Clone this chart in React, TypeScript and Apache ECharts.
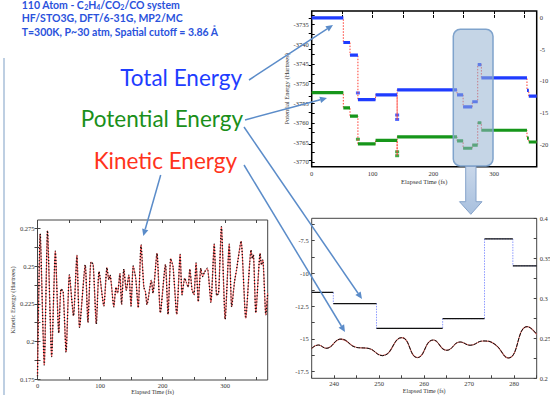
import { useEffect, useRef } from 'react';
import * as echarts from 'echarts';

// ---------- Top-right chart (0–370 fs), step data ----------
const stepTimes = [0, 52, 63, 76, 105, 140.5, 239, 249, 264, 273, 279, 354, 357, 370];
// Total energy (energy conservation, kcal/mol, right axis)
const totalEnergy = [0, -3.9, -5.9, -12.95, -12.2, -11.4, -12.2, -14.1, -13.3, -7.4, -9.5, -11.5, -12.4];
// Potential energy (Hartrees, left axis)
const potentialEnergy = [-3752.3, -3756.2, -3758.3, -3765.4, -3764.5, -3763.6, -3764.6, -3766.5, -3765.7, -3760.0, -3761.9, -3763.9, -3764.9];
const glitchTimes = [76, 140.5, 140.5];
const totalGlitch = [-11.9, -15.4, -16.1];
const potentialGlitch = [-3764.2, -3767.4, -3768.4];

const topTimeLabels = [0, 100, 200, 300];
const topTimeTicks = [0, 50, 100, 150, 200, 250, 300, 350];
const potLabels = [-3770, -3765, -3760, -3755, -3750, -3745, -3740, -3735];
const potTicks = [-3770, -3767.5, -3765, -3762.5, -3760, -3757.5, -3755, -3752.5, -3750, -3747.5, -3745, -3742.5, -3740, -3737.5, -3735, -3732.5];
const consLabels = [-20, -15, -10, -5, 0];
const consTicks = [-22.5, -20, -17.5, -15, -12.5, -10, -7.5, -5, -2.5, 0];

// ---------- Bottom-left chart: kinetic energy (Hartrees) ----------
const kinTime = [0, 4.3, 10.8, 16, 22.6, 28.5, 34, 37.6, 41, 45.7, 51, 57.5, 63, 67.2, 76.3, 80.6, 85.5, 89, 94, 98.4, 106, 111, 114, 116, 122, 125.5, 128, 131.7, 134.4, 138, 142, 146, 149.5, 153, 157, 161, 165.5, 170, 172.5, 175, 182, 184.6, 191, 196.4, 204.5, 208.7, 213, 216.7, 222.6, 228, 231.1, 235.4, 238, 240.8, 243.5, 247, 250, 253.5, 257, 261.1, 264, 267, 271.5, 277.2, 282.5, 286.5, 289.5, 294, 300, 306.5, 310.4, 315, 318, 325.4, 332.9, 341.4, 343.5, 345.1, 349, 355.9, 358, 360.2, 365, 368];
const kinValue = [0.177, 0.2713, 0.1845, 0.2734, 0.19, 0.2598, 0.2057, 0.2348, 0.233, 0.193, 0.2441, 0.217, 0.257, 0.2094, 0.2507, 0.2127, 0.2528, 0.251, 0.2116, 0.2463, 0.2235, 0.249, 0.241, 0.244, 0.223, 0.236, 0.232, 0.245, 0.2246, 0.248, 0.234, 0.244, 0.2235, 0.25, 0.242, 0.2224, 0.264, 0.236, 0.233, 0.2245, 0.2405, 0.232, 0.2585, 0.219, 0.251, 0.218, 0.255, 0.2495, 0.218, 0.2577, 0.231, 0.242, 0.239, 0.236, 0.248, 0.2345, 0.231, 0.252, 0.2265, 0.2485, 0.243, 0.246, 0.2485, 0.226, 0.2645, 0.2305, 0.232, 0.276, 0.2148, 0.2645, 0.223, 0.2397, 0.247, 0.2665, 0.2154, 0.2606, 0.255, 0.2575, 0.219, 0.2584, 0.2507, 0.254, 0.2177, 0.232];
const kinTimeLabels = [0, 100, 200, 300];
const kinTimeTicks = [0, 50, 100, 150, 200, 250, 300, 350];
const kinLabels = [0.175, 0.2, 0.225, 0.25, 0.275];
const kinTicks = [0.175, 0.1875, 0.2, 0.2125, 0.225, 0.2375, 0.25, 0.2625, 0.275];

// ---------- Bottom-right chart: zoom 235–285 fs ----------
const zoomStepTimes = [235, 239.8, 249.4, 264.1, 273.4, 279.7, 285];
const zoomStepValues = [-11.45, -12.3, -14.2, -13.45, -7.37, -9.42];
const zoomKinTime = [235, 236.5, 238.2, 241.5, 245, 247.5, 250.7, 255, 258.5, 262, 265, 268, 270.2, 273.1, 275.7, 278.7, 282.9, 285];
const zoomKinValue = [0.2375, 0.2416, 0.2375, 0.249, 0.2385, 0.2375, 0.2283, 0.2508, 0.2258, 0.2479, 0.235, 0.2454, 0.2413, 0.2467, 0.2425, 0.2254, 0.2646, 0.255];
const zoomTimeLabels = [240, 250, 260, 270, 280];
const zoomTimeTicks = [235, 240, 245, 250, 255, 260, 265, 270, 275, 280, 285];
const zoomConsLabels = [-17.5, -15, -12.5, -10, -7.5];
const zoomConsTicks = [-17.5, -16.25, -15, -13.75, -12.5, -11.25, -10, -8.75, -7.5, -6.25];
const zoomKinLabels = [0.2, 0.25, 0.3, 0.35, 0.4];
const zoomKinTicks = [0.2, 0.225, 0.25, 0.275, 0.3, 0.325, 0.35, 0.375, 0.4];

const SERIF = 'Liberation Serif';
const SANS = 'Lato';

function stepSegments(times: number[], values: number[]) {
  const out: any[] = [];
  values.forEach((v, i) => {
    out.push([times[i], v], [times[i + 1], v], [times[i + 1], null]);
  });
  return out;
}

function stepPath(times: number[], values: number[], gT: number[] = [], gV: number[] = []) {
  const pts: number[][] = [[times[0], values[0]]];
  values.forEach((v, i) => {
    const tEnd = times[i + 1];
    pts.push([tEnd, v]);
    if (i + 1 < values.length) {
      gT.forEach((g, k) => {
        if (g === tEnd) pts.push([tEnd, gV[k]]);
      });
      pts.push([tEnd, values[i + 1]]);
    }
  });
  return pts;
}

function zip(a: number[], b: number[]) {
  return a.map((x, i) => [x, b[i]]);
}

const labelStyle = { fontFamily: SERIF, fontSize: 6.5, color: '#333', margin: 3, formatter: (v: number) => String(v) };
const nameStyle = { fontFamily: SERIF, fontSize: 6.5, color: '#333' };
const bottomNameStyle = { fontFamily: SERIF, fontSize: 6, color: '#333', lineHeight: 6 };

function valAxis(extra: any) {
  return {
    type: 'value',
    splitLine: { show: false },
    axisLine: { show: false },
    ...extra,
  };
}

const ARROW = '#5b8cc9';
function arrow(x1: number, y1: number, x2: number, y2: number) {
  const a = Math.atan2(y2 - y1, x2 - x1);
  const L = 7;
  const W = 3.2;
  const bx = x2 - L * Math.cos(a);
  const by = y2 - L * Math.sin(a);
  const px = -Math.sin(a) * W;
  const py = Math.cos(a) * W;
  return [
    { type: 'line', z: 100, shape: { x1, y1, x2: bx, y2: by }, style: { stroke: ARROW, lineWidth: 1.5 } },
    { type: 'polygon', z: 100, shape: { points: [[x2, y2], [bx + px, by + py], [bx - px, by - py]] }, style: { fill: ARROW } },
  ];
}

function slideText(text: string, x: number, y: number, size: number, color: string, weight: string, align: string, rich?: any) {
  return {
    type: 'text',
    z: 100,
    x,
    y,
    style: {
      text,
      fill: color,
      fontFamily: SANS,
      fontSize: size,
      fontWeight: weight,
      align,
      textAlign: align,
      verticalAlign: 'middle',
      textVerticalAlign: 'middle',
      rich,
    },
  };
}

export default function App() {
  const ref = useRef<HTMLDivElement>(null);
  useEffect(() => {
    if (!ref.current) return;
    const chart = echarts.init(ref.current, undefined, { renderer: 'svg' });
    const subColor = '#2a52dc';
    const sub = { s: { fontSize: 7, fontWeight: 'bold', fontFamily: SANS, fill: subColor, verticalAlign: 'bottom', lineHeight: 8 } };

    const option: any = {
      animation: false,
      backgroundColor: '#fff',
      grid: [
        { left: 311.7, top: 11, width: 225, height: 155.7, show: true, borderColor: '#000', borderWidth: 1.5, backgroundColor: 'transparent', outerBoundsMode: 'none' },
        { left: 37.5, top: 220, width: 230.2, height: 160, show: true, borderColor: '#444', borderWidth: 1, backgroundColor: 'transparent', outerBoundsMode: 'none' },
        { left: 311.7, top: 218.3, width: 225, height: 160, show: true, borderColor: '#444', borderWidth: 1, backgroundColor: 'transparent', outerBoundsMode: 'none' },
      ],
      xAxis: [
        valAxis({
          gridIndex: 0, min: 0, max: 370, position: 'bottom',
          axisLabel: { ...labelStyle, customValues: topTimeLabels },
          axisTick: { inside: true, length: 3, customValues: topTimeTicks, lineStyle: { color: '#000' } },
          name: 'Elapsed Time (fs)', nameLocation: 'middle', nameGap: 11, nameTextStyle: nameStyle,
        }),
        valAxis({
          gridIndex: 0, min: 0, max: 370, position: 'top',
          axisLabel: { show: false },
          axisTick: { inside: true, length: 3, customValues: topTimeTicks, lineStyle: { color: '#000' } },
        }),
        valAxis({
          gridIndex: 1, min: 0, max: 368, position: 'bottom',
          axisLabel: { ...labelStyle, margin: 1.5, customValues: kinTimeLabels },
          axisTick: { inside: true, length: 3, customValues: kinTimeTicks, lineStyle: { color: '#444' } },
          name: 'Elapsed Time (fs)', nameLocation: 'middle', nameGap: 6.5, nameTextStyle: bottomNameStyle,
        }),
        valAxis({
          gridIndex: 1, min: 0, max: 368, position: 'top',
          axisLabel: { show: false },
          axisTick: { inside: true, length: 3, customValues: kinTimeTicks, lineStyle: { color: '#444' } },
        }),
        valAxis({
          gridIndex: 2, min: 235, max: 285, position: 'bottom',
          axisLabel: { ...labelStyle, margin: 2, customValues: zoomTimeLabels },
          axisTick: { inside: true, length: 3, customValues: zoomTimeTicks, lineStyle: { color: '#444' } },
          name: 'Elapsed Time (fs)', nameLocation: 'middle', nameGap: 9, nameTextStyle: bottomNameStyle,
        }),
      ],
      yAxis: [
        valAxis({
          gridIndex: 0, min: -3771.2, max: -3731.5, position: 'left',
          axisLabel: { ...labelStyle, customValues: potLabels },
          axisTick: { inside: true, length: 3, customValues: potTicks, lineStyle: { color: '#000' } },
          name: 'Potential Energy (Hartrees)', nameLocation: 'middle', nameGap: 21, nameRotate: 90, nameTextStyle: nameStyle,
        }),
        valAxis({
          gridIndex: 0, min: -23.6, max: 1.1, position: 'right',
          axisLabel: { ...labelStyle, customValues: consLabels },
          axisTick: { inside: true, length: 3, customValues: consTicks, lineStyle: { color: '#000' } },
        }),
        valAxis({
          gridIndex: 1, min: 0.1745, max: 0.2805, position: 'left',
          axisLabel: { ...labelStyle, customValues: kinLabels },
          axisTick: { inside: true, length: 3, customValues: kinTicks, lineStyle: { color: '#444' } },
          name: 'Kinetic Energy (Hartrees)', nameLocation: 'middle', nameGap: 21, nameRotate: 90, nameTextStyle: nameStyle,
        }),
        valAxis({
          gridIndex: 1, min: 0.1745, max: 0.2805, position: 'right',
          axisLabel: { show: false },
          axisTick: { inside: true, length: 3, customValues: kinTicks, lineStyle: { color: '#444' } },
        }),
        valAxis({
          gridIndex: 2, min: -18, max: -5.8, position: 'left',
          axisLabel: { ...labelStyle, customValues: zoomConsLabels },
          axisTick: { inside: true, length: 3, customValues: zoomConsTicks, lineStyle: { color: '#444' } },
        }),
        valAxis({
          gridIndex: 2, min: 0.2, max: 0.4, position: 'right',
          axisLabel: { ...labelStyle, customValues: zoomKinLabels },
          axisTick: { inside: true, length: 3, customValues: zoomKinTicks, lineStyle: { color: '#444' } },
        }),
      ],
      series: [
        // top chart
        {
          type: 'line', xAxisIndex: 0, yAxisIndex: 1, symbol: 'none',
          data: stepPath(stepTimes, totalEnergy, glitchTimes, totalGlitch),
          lineStyle: { color: '#ff3b30', width: 1, type: [1.5, 1.5] },
        },
        {
          type: 'line', xAxisIndex: 0, yAxisIndex: 1, symbol: 'none', connectNulls: false,
          data: stepSegments(stepTimes, totalEnergy),
          lineStyle: { color: '#1f3cff', width: 3.2 },
        },
        {
          type: 'scatter', xAxisIndex: 0, yAxisIndex: 1, symbol: 'rect', symbolSize: [4, 3],
          data: zip(glitchTimes, totalGlitch), itemStyle: { color: '#1f3cff' },
        },
        {
          type: 'line', xAxisIndex: 0, yAxisIndex: 0, symbol: 'none',
          data: stepPath(stepTimes, potentialEnergy, glitchTimes, potentialGlitch),
          lineStyle: { color: '#ff3b30', width: 1, type: [1.5, 1.5] },
        },
        {
          type: 'line', xAxisIndex: 0, yAxisIndex: 0, symbol: 'none', connectNulls: false,
          data: stepSegments(stepTimes, potentialEnergy),
          lineStyle: { color: '#16961a', width: 3.2 },
        },
        {
          type: 'scatter', xAxisIndex: 0, yAxisIndex: 0, symbol: 'rect', symbolSize: [4, 3],
          data: zip(glitchTimes, potentialGlitch), itemStyle: { color: '#16961a' },
        },
        // bottom-left kinetic energy
        {
          type: 'line', xAxisIndex: 2, yAxisIndex: 2, symbol: 'none', smooth: 0.2,
          data: zip(kinTime, kinValue),
          lineStyle: { color: '#ff5a5a', width: 1 },
        },
        {
          type: 'line', xAxisIndex: 2, yAxisIndex: 2, symbol: 'none', smooth: 0.2,
          data: zip(kinTime, kinValue),
          lineStyle: { color: '#111', width: 1.4, type: [1.1, 2] },
        },
        // bottom-right zoom
        {
          type: 'line', xAxisIndex: 4, yAxisIndex: 4, symbol: 'none',
          data: stepPath(zoomStepTimes, zoomStepValues),
          lineStyle: { color: '#7080ff', width: 0.8, type: [1.5, 1.2] },
        },
        {
          type: 'line', xAxisIndex: 4, yAxisIndex: 4, symbol: 'none', connectNulls: false,
          data: stepSegments(zoomStepTimes, zoomStepValues),
          lineStyle: { color: '#111', width: 1.3 },
        },
        {
          type: 'line', xAxisIndex: 4, yAxisIndex: 5, symbol: 'none', smooth: 0.5,
          data: zip(zoomKinTime, zoomKinValue),
          lineStyle: { color: '#d0605a', width: 1.1 },
        },
        {
          type: 'line', xAxisIndex: 4, yAxisIndex: 5, symbol: 'none', smooth: 0.5,
          data: zip(zoomKinTime, zoomKinValue),
          lineStyle: { color: '#111', width: 1, type: [4, 1.2] },
        },
      ],
      graphic: [
        // slide frame line on the left
        { type: 'line', z: 90, shape: { x1: 4, y1: 58, x2: 4, y2: 395 }, style: { stroke: '#a9bfd9', lineWidth: 1.5 } },
        // highlight box over the top chart
        {
          type: 'rect', z: 90, shape: { x: 453.3, y: 29.3, width: 39.7, height: 136.6, r: 7 },
          style: { fill: 'rgba(150,178,210,0.55)', stroke: '#7fa3cc', lineWidth: 1.5 },
        },
        // down arrow
        {
          type: 'polygon', z: 90,
          shape: { points: [[465.7, 166.5], [476, 166.5], [476, 201.7], [482, 201.7], [470.8, 214.3], [459.5, 201.7], [465.7, 201.7]] },
          style: {
            fill: new echarts.graphic.LinearGradient(0, 0, 0, 1, [
              { offset: 0, color: '#c9d7ea' },
              { offset: 1, color: '#a8c0de' },
            ]),
            stroke: '#86a3ca', lineWidth: 1,
          },
        },
        // slide texts
        slideText('110 Atom - C{s|2}H{s|4}/CO{s|2}/CO system', 21.7, 4.8, 10.5, subColor, 'bold', 'left', sub),
        slideText('HF/STO3G, DFT/6-31G, MP2/MC', 21.7, 17.5, 10.5, subColor, 'bold', 'left'),
        slideText('T=300K, P~30 atm, Spatial cutoff = 3.86 Å', 21.7, 32, 10.5, subColor, 'bold', 'left'),
        slideText('Total Energy', 242, 77, 22.5, '#1e3dff', 'normal', 'right'),
        slideText('Potential Energy', 243, 118, 22.5, '#1a8f1a', 'normal', 'right'),
        slideText('Kinetic Energy', 237, 160, 22.5, '#ff331c', 'normal', 'right'),
        // arrows
        ...arrow(249, 80, 333, 25),
        ...arrow(245, 120, 327, 98),
        ...arrow(244, 127, 362, 299),
        ...arrow(244, 165, 345, 332),
        ...arrow(160.7, 175, 143.3, 236),
      ],
    };
    chart.setOption(option);
    return () => chart.dispose();
  }, []);
  return <div ref={ref} style={{ position: 'absolute', left: 0, top: 0, width: 550, height: 395 }} />;
}
